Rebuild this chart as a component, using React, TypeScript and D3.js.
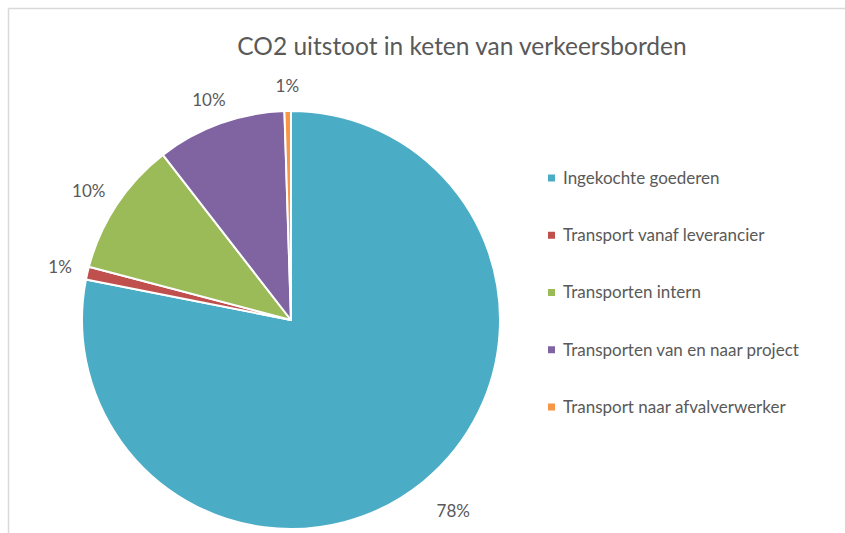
import React from "react";
import * as d3 from "d3";

const categories = [
  "Ingekochte goederen",
  "Transport vanaf leverancier",
  "Transporten intern",
  "Transporten van en naar project",
  "Transport naar afvalverwerker",
];
const values = [78.1, 1.0, 10.4, 10.0, 0.5];
const colors = ["#4BACC6", "#C0504D", "#9BBB59", "#8064A2", "#F79646"];
const title = "CO2 uitstoot in keten van verkeersborden";

const W = 845;
const H = 533;
const cx = 291;
const cy = 320;
const R = 209;
const FONT = "Lato, 'Open Sans', sans-serif";

export default function App() {
  const pie = d3.pie<number>().sort(null).value((d) => d)(values);
  const arc = d3.arc<d3.PieArcDatum<number>>().innerRadius(0).outerRadius(R);
  const total = d3.sum(values);

  const legendY = d3.scalePoint<number>().domain(d3.range(categories.length)).range([178, 407]);

  return (
    <div style={{ position: "absolute", left: 0, top: 0, width: W, height: H, overflow: "hidden" }}>
      <svg width={W} height={H} style={{ display: "block", background: "#fff" }}>
        <line x1={8.5} y1={8.5} x2={W} y2={8.5} stroke="#D9D9D9" strokeWidth={1.5} />
        <line x1={8.5} y1={8.5} x2={8.5} y2={H} stroke="#D9D9D9" strokeWidth={1.5} />
        <text x={462} y={55} textAnchor="middle" fontFamily={FONT} fontSize={24.5} fill="#595959">
          {title}
        </text>
        <g transform={`translate(${cx},${cy})`}>
          {pie.map((p, i) => (
            <path key={i} d={arc(p) || ""} fill={colors[i]} stroke="#fff" strokeWidth={2} strokeLinejoin="round" />
          ))}
          {pie.map((p, i) => {
            const mid = (p.startAngle + p.endAngle) / 2;
            const ux = Math.sin(mid);
            const uy = -Math.cos(mid);
            const label = `${Math.round((p.value / total) * 100)}%`;
            const big = p.value / total > 0.5;
            const pad = big ? 30 : 17;
            const hw = label.length * 5.5;
            const hh = 8;
            const x = ux * (R + pad) + ux * hw;
            const y = uy * (R + pad) + uy * hh;
            return (
              <text key={i} x={x} y={y} dy="0.35em" textAnchor="middle" fontFamily={FONT} fontSize={17} fill="#595959">
                {label}
              </text>
            );
          })}
        </g>
        {categories.map((c, i) => (
          <g key={c} transform={`translate(548,${legendY(i)})`}>
            <rect x={0} y={-3.5} width={7} height={7} fill={colors[i]} />
            <text x={15} y={0} dy="0.35em" fontFamily={FONT} fontSize={17} fill="#595959">
              {c}
            </text>
          </g>
        ))}
      </svg>
    </div>
  );
}
